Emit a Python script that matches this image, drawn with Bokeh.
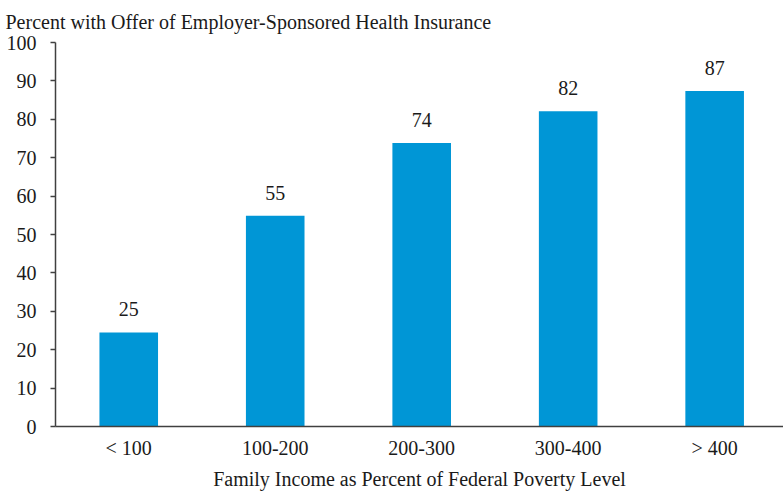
import numpy as np
from bokeh.plotting import figure
from bokeh.models import ColumnDataSource, FixedTicker, Range1d
from bokeh.core.properties import value
from bokeh.embed import file_html
from bokeh.resources import INLINE

categories = ["< 100", "100-200", "200-300", "300-400", "> 400"]
values = [24.5, 54.9, 73.8, 82.1, 87.4]
labels = ["25", "55", "74", "82", "87"]
y_ticks = [0, 10, 20, 30, 40, 50, 60, 70, 80, 90, 100]
title = "Percent with Offer of Employer-Sponsored Health Insurance"
x_title = "Family Income as Percent of Federal Poverty Level"

FONT = "Liberation Serif"
BAR = "#0096D6"
AXIS = "#404040"
TXT = "#1a1a1a"
FS = "20px"

xpos = (np.arange(len(categories)) + 0.5).tolist()
src = ColumnDataSource(dict(x=xpos, top=values, label=labels))

p = figure(width=783, height=492, output_backend="svg", toolbar_location=None,
           x_range=Range1d(0, 4.97), y_range=Range1d(0, 100),
           min_border_left=55, min_border_right=0, min_border_bottom=63, min_border_top=42)

p.title.text = title
p.title.text_font = FONT
p.title.text_font_size = FS
p.title.text_font_style = "normal"
p.title.text_color = TXT
p.title.align = "left"
p.title.vertical_align = "top"
p.title.offset = -50
p.title.standoff = 16

p.vbar(x="x", top="top", width=0.4, bottom=0, source=src, color=BAR, line_color=None)
p.text(x="x", y="top", text="label", source=src, text_align="center",
       text_baseline="alphabetic", y_offset=-23, text_font=value(FONT),
       text_font_size=FS, text_color=TXT)

p.xgrid.visible = False
p.ygrid.visible = False
p.outline_line_color = None
p.background_fill_color = "white"

p.xaxis.ticker = FixedTicker(ticks=xpos)
p.xaxis.major_label_overrides = {x: c for x, c in zip(xpos, categories)}
p.xaxis.minor_tick_line_color = None
p.xaxis.major_tick_line_color = None
p.xaxis.axis_label = x_title
p.xaxis.axis_label_text_font = FONT
p.xaxis.axis_label_text_font_size = FS
p.xaxis.axis_label_text_font_style = "normal"
p.xaxis.axis_label_text_color = TXT
p.xaxis.axis_label_standoff = 6
p.xaxis.major_label_standoff = 4

p.yaxis.ticker = FixedTicker(ticks=y_ticks)
p.yaxis.minor_tick_line_color = None
p.yaxis.major_tick_in = 0
p.yaxis.major_tick_out = 5
p.yaxis.major_tick_line_color = AXIS
p.yaxis.major_tick_line_width = 1.5
p.yaxis.major_label_standoff = 14

for ax in (p.xaxis, p.yaxis):
    ax.axis_line_color = AXIS
    ax.axis_line_width = 1.5
    ax.major_label_text_font = FONT
    ax.major_label_text_font_size = FS
    ax.major_label_text_color = TXT

open("out.html", "w").write(file_html(p, INLINE))
